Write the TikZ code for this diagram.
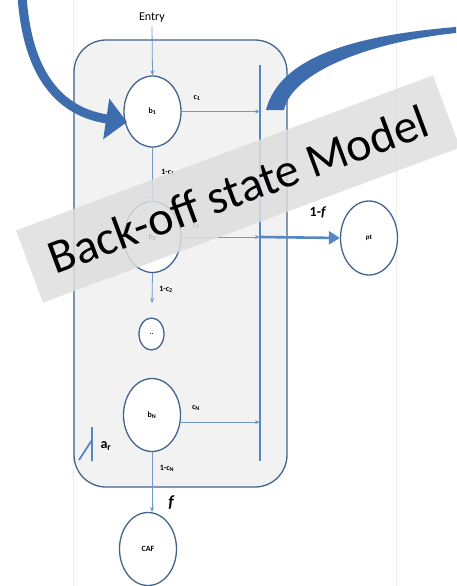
\documentclass[tikz,border=0pt]{standalone}
\usepackage{fontspec}
\setmainfont{Carlito}
\usetikzlibrary{shapes.geometric,arrows.meta}
\definecolor{rim}{HTML}{44648C}
\definecolor{flow}{HTML}{7098C8}
\definecolor{barc}{HTML}{5587C4}
\definecolor{bigc}{HTML}{3D6DAD}
\begin{document}
\begin{tikzpicture}[x=1pt,y=-1pt]
	\tikzset{st/.style={draw=rim,line width=1.3pt,fill=white,ellipse,inner sep=0pt,minimum width=57pt,minimum height=71pt,font=\fontsize{8}{8}\selectfont\bfseries},
		fl/.style={draw=flow,line width=0.8pt,-{Stealth[length=5pt,width=4pt]}},
		lb/.style={inner sep=0pt,font=\fontsize{8}{8}\selectfont\bfseries}}
	\useasboundingbox(0,0)rectangle(456,586);
	\draw[black!7](73,0)--(73,586)(396,0)--(396,586);
	% the back-off box and its collecting bar
	\draw[rim,line width=1.3pt,fill=black!5,rounded corners=32pt](74,40)rectangle(287,487);
	\path(260,65)coordinate(t)(260,461)coordinate(u);
	\draw[barc,line width=1.6pt](t)--(u);
	% states
	\path(152,18)node[font=\fontsize{12}{12}\selectfont](E){Entry};
	\path(152.5,111.5)node[st](b1){b\textsubscript{1}}++(0,125.5)node[st](b2){b\textsubscript{2}};
	\path(151.5,334)node[st,minimum width=25pt,minimum height=32pt,font=\fontsize{7}{7}\selectfont\bfseries](dd){..};
	\path(152,415)node[st,minimum height=73pt](bN){b\textsubscript{N}};
	\path(148,549)node[st,minimum height=73pt](CAF){CAF};
	\path(369,238)node[st,minimum height=74pt,font=\fontsize{7}{7}\selectfont\bfseries](pt){pt};
	\path(152,303)coordinate(d)(152,512)coordinate(k);
	\foreach \x/\y in {
		E.south/b1.north,b1.south/b2.north,
		b2.south/d,bN.south/k}
	\draw[fl](\x)--(\y);
	\foreach \x in {b1.east,b2.east,bN.-14}
	\draw[fl](\x)--(\x-|t);
	\draw[barc,line width=2.6pt,-{Triangle[length=11pt,width=13pt]}](b2.east-|t)--(pt.west);
	\path(197,98)node[lb]{c\textsubscript{1}}(168,172)node[lb]{1-c\textsubscript{1}}
	(196,226)node[lb]{c\textsubscript{2}}(166,289)node[lb]{1-c\textsubscript{2}}
	(196,408)node[lb]{c\textsubscript{N}}(167,468)node[lb]{1-c\textsubscript{N}};
	\path(318,212)node[font=\fontsize{14}{14}\selectfont\bfseries]{1-\textit{f}}
	(171,503)node[font=\fontsize{17}{17}\selectfont\bfseries\itshape]{f}
	(106,446)node[font=\fontsize{14}{14}\selectfont\bfseries]{a\textsubscript{r}};
	\draw[barc,line width=1.8pt](92,427)--(92,461)(92,440)--(79,460);
	% big curved arrows
	\draw[bigc,line width=9pt,-{Triangle[length=21pt,width=40pt]}](22,-5)..controls(27,75)and(60,112)..(127,122);
	\fill[bigc](456,27)..controls(360,35)and(280,55)..(266,110)--(284,110)..controls(292,72)and(370,42)..(456,33)--cycle;
	% banner
	\path(238,189)node[rotate=20.4,fill=black!13,fill opacity=.85,text opacity=1,minimum width=445pt,minimum height=77pt,font=\fontsize{48}{48}\selectfont](ban){Back-off state Model};
\end{tikzpicture}
\end{document}
